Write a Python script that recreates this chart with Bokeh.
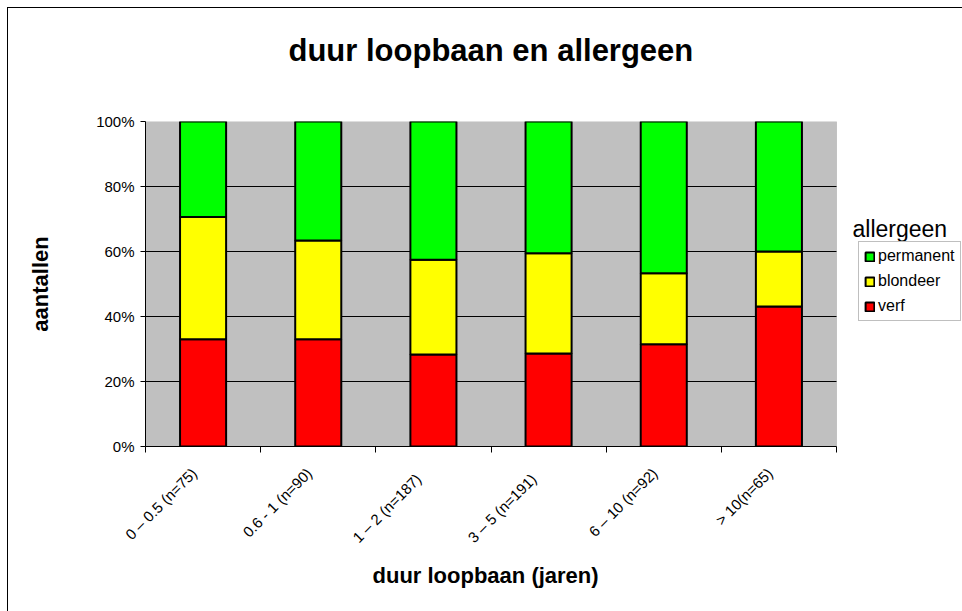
import math
from bokeh.plotting import figure
from bokeh.models import (Legend, LegendItem, FixedTicker, PrintfTickFormatter, Range1d,
                          Label, BoxAnnotation, Title)
from bokeh.embed import file_html
from bokeh.resources import INLINE

# ---- data ----
categories = ["0 \u2013 0.5 (n=75)", "0.6 - 1 (n=90)", "1 \u2013   2 (n=187)",
              "3 \u2013   5 (n=191)", "6 \u2013 10 (n=92)", "> 10(n=65)"]
verf = [33.0, 33.0, 28.3, 28.6, 31.5, 43.1]
blondeer = [37.6, 30.4, 29.2, 30.9, 21.8, 16.9]
permanent = [29.4, 36.6, 42.5, 40.5, 46.7, 40.0]
series_names = ["verf", "blondeer", "permanent"]
series_colors = ["#FF0000", "#FFFF00", "#00FF00"]
y_ticks = [0, 20, 40, 60, 80, 100]

FONT = "Liberation Sans"
N = len(categories)

xs = [i + 0.5 for i in range(N)]
data = dict(x=xs, verf=verf, blondeer=blondeer, permanent=permanent)

W, H = 962, 611
FL, FR, FT, FB = 145, 836, 121, 446   # plot-area edges (px)
cat_px = (FR - FL) / N
x_end = N * (W - FL) / (FR - FL)       # frame extends to the right edge for legend

p = figure(width=W, height=H, output_backend="svg", toolbar_location=None,
           x_range=Range1d(0, x_end), y_range=Range1d(0, 100),
           min_border_left=FL, min_border_right=0, min_border_top=FT,
           min_border_bottom=H - FB)
p.border_fill_color = None
p.background_fill_color = None
p.outline_line_color = None
p.styles = {"background": "linear-gradient(#000,#000) 7px 7px / 1px 100% no-repeat, "
                          "linear-gradient(#000,#000) 7px 7px / 100% 1px no-repeat, #fff"}

# grey plot area
plot_area = BoxAnnotation(left=0, right=N, bottom=0, top=100, fill_color="#C0C0C0",
                          fill_alpha=1, line_color="#808080", line_width=1, level="image")
p.add_layout(plot_area)

renderers = p.vbar_stack(series_names, x="x", width=0.4, source=data,
                         fill_color=series_colors, line_color="black", line_width=2)

# grid
p.xgrid.visible = False
p.ygrid.ticker = FixedTicker(ticks=y_ticks)
p.ygrid.grid_line_color = "black"
p.ygrid.grid_line_width = 1
p.ygrid.cross_bounds = (0, N)

# y axis
ya = p.yaxis[0]
ya.ticker = FixedTicker(ticks=y_ticks)
ya.formatter = PrintfTickFormatter(format="%d%%")
ya.major_label_text_font = FONT
ya.major_label_text_font_size = "15px"
ya.major_label_text_color = "black"
ya.major_tick_out = 5
ya.major_tick_in = 0
ya.minor_tick_line_color = None
ya.major_label_standoff = 6
ya.axis_line_color = "black"
ya.axis_label = "aantallen"
ya.axis_label_text_font = FONT
ya.axis_label_text_font_style = "bold"
ya.axis_label_text_font_size = "22px"
ya.axis_label_text_color = "black"
ya.axis_label_standoff = 40

# x axis
shift = 9 / cat_px
label_pos = [x - shift for x in xs]
xa = p.xaxis[0]
xa.bounds = (0, N)
xa.ticker = FixedTicker(ticks=label_pos, minor_ticks=list(range(N + 1)))
xa.major_label_overrides = {x: c for x, c in zip(label_pos, categories)}
xa.major_label_orientation = math.pi / 4
xa.major_label_text_font = FONT
xa.major_label_text_font_size = "15px"
xa.major_label_text_color = "black"
xa.major_tick_out = 0
xa.major_tick_in = 0
xa.minor_tick_out = 6
xa.minor_tick_in = 0
xa.minor_tick_line_color = "black"
xa.major_label_standoff = 18
xa.axis_line_color = "black"

# x-axis title, centred under the plot area
x_title = Title(text="duur loopbaan (jaren)", text_font=FONT, text_font_size="22px",
                text_font_style="bold", text_color="black", align="left",
                offset=227, standoff=12)
p.add_layout(x_title, "below")

# title (trailing newline lifts the single visible line)
p.title.text = "duur loopbaan en allergeen\n"
p.title.text_font = FONT
p.title.text_font_size = "31px"
p.title.text_font_style = "bold"
p.title.text_color = "black"
p.title.align = "left"
p.title.offset = 143
p.title.standoff = 37

# legend (just right of the plot area)
items = [LegendItem(label=n, renderers=[r]) for n, r in zip(series_names, renderers)][::-1]
legend = Legend(items=items, location=(FR - FL + 22, 125), margin=0, padding=5, spacing=7,
                glyph_width=11, glyph_height=11, label_standoff=3,
                label_text_font=FONT, label_text_font_size="16px",
                label_text_color="black",
                label_height=18, border_line_color="#808080", border_line_width=1,
                background_fill_color="white")
p.add_layout(legend)

title_lbl = Label(x=FR - FL + 16, y=218, x_units="screen", y_units="screen", text="allergeen",
                  text_font=FONT, text_font_size="23px", text_baseline="middle",
                  text_color="black")
p.add_layout(title_lbl)

open("out.html", "w").write(file_html(p, INLINE))
